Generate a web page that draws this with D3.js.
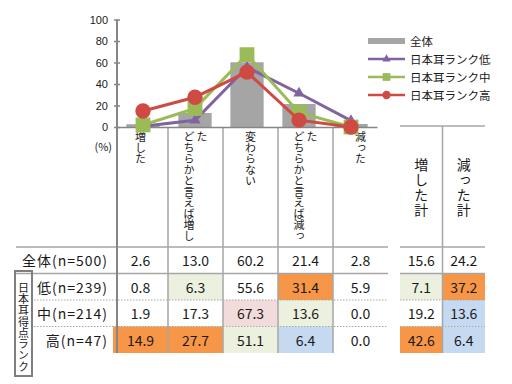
<!DOCTYPE html>
<html>
<head>
<meta charset="utf-8">
<script src="https://cdn.jsdelivr.net/npm/d3@7"></script>
<style>
body{margin:0;background:#fff;}
svg{font-family:"Noto Sans CJK JP","Noto Sans",sans-serif;}
.vtext{writing-mode:vertical-rl;}
</style>
</head>
<body>
<div id="chart"></div>
<script>
'use strict';

var categories = ['増した', 'どちらかと言えば増した', '変わらない', 'どちらかと言えば減った', '減った'];
var totalCats = ['増した計', '減った計'];
var seriesNames = ['全体', '日本耳ランク低', '日本耳ランク中', '日本耳ランク高'];
var rowLabels = ['全体(n=500)', '低(n=239)', '中(n=214)', '高(n=47)'];
var rankLabel = '日本耳得点ランク';
var yTicks = [0, 20, 40, 60, 80, 100];

var allValues  = [2.6, 13.0, 60.2, 21.4, 2.8];
var lowValues  = [0.8, 6.3, 55.6, 31.4, 5.9];
var midValues  = [1.9, 17.3, 67.3, 13.6, 0.0];
var highValues = [14.9, 27.7, 51.1, 6.4, 0.0];

var allTotals  = [15.6, 24.2];
var lowTotals  = [7.1, 37.2];
var midTotals  = [19.2, 13.6];
var highTotals = [42.6, 6.4];

// difference vs 全体: 2 much higher, 1 higher, -1 lower, -2 much lower
var allSig  = [0, 0, 0, 0, 0, 0, 0];
var lowSig  = [0, -1, 0, 2, 0, -1, 2];
var midSig  = [0, 0, 1, -1, 0, 0, -2];
var highSig = [2, 2, -1, -2, 0, 2, -2];

var sigColor = {'2': '#f79646', '1': '#f2dcdb', '0': 'none', '-1': '#ebf1de', '-2': '#c5d9f1'};
var gridColor = '#a6a6a6';
var axisColor = '#868686';

var width = 512, height = 384;

var svg = d3.select('#chart').append('svg')
	.attr('width', width)
	.attr('height', height);

// scales
var x = d3.scaleBand().domain(categories).range([117, 377]).paddingInner(0.36).paddingOuter(0.18);
var y = d3.scaleLinear().domain([0, 100]).range([127, 19.5]);
var tx = d3.scaleBand().domain(categories).range([113, 388]);
var tx2 = d3.scaleBand().domain(totalCats).range([400, 485]);
var ty = d3.scaleBand().domain(rowLabels).range([247, 353]);

var rows = [
	{label: rowLabels[0], values: allValues.concat(allTotals), sig: allSig},
	{label: rowLabels[1], values: lowValues.concat(lowTotals), sig: lowSig},
	{label: rowLabels[2], values: midValues.concat(midTotals), sig: midSig},
	{label: rowLabels[3], values: highValues.concat(highTotals), sig: highSig}
];

function colX(i){ return i < 5 ? tx(categories[i]) : tx2(totalCats[i - 5]); }
function colW(i){ return i < 5 ? tx.bandwidth() : tx2.bandwidth(); }

// table cells
var table = svg.append('g').attr('class', 'table');

rows.forEach(function(r){
	var cells = table.selectAll(null).data(r.values).enter();
	cells.append('rect')
		.attr('x', function(d, i){ return colX(i); })
		.attr('y', ty(r.label))
		.attr('width', function(d, i){ return colW(i); })
		.attr('height', ty.bandwidth())
		.attr('fill', function(d, i){ return sigColor[r.sig[i]]; });
	cells.append('text')
		.attr('x', function(d, i){ return colX(i) + colW(i) / 2; })
		.attr('y', ty(r.label) + ty.bandwidth() / 2)
		.attr('text-anchor', 'middle')
		.attr('dominant-baseline', 'central')
		.attr('font-size', 14)
		.attr('fill', '#1a1a1a')
		.text(function(d){ return d.toFixed(1); });
	table.append('text')
		.attr('x', 108)
		.attr('y', ty(r.label) + ty.bandwidth() / 2)
		.attr('text-anchor', 'end')
		.attr('dominant-baseline', 'central')
		.attr('font-size', 14)
		.attr('letter-spacing', 1)
		.attr('fill', '#1a1a1a')
		.text(r.label);
});

// grid lines
var grid = svg.append('g').attr('stroke', gridColor).attr('stroke-width', 1.5);

grid.selectAll('line.v').data(categories.slice(1)).enter().append('line')
	.attr('x1', function(d){ return tx(d); }).attr('x2', function(d){ return tx(d); })
	.attr('y1', y(0)).attr('y2', 353);

grid.append('line')
	.attr('x1', tx2(totalCats[1])).attr('x2', tx2(totalCats[1]))
	.attr('y1', 126).attr('y2', 353);

grid.append('line').attr('x1', tx2.range()[0]).attr('x2', tx2.range()[1]).attr('y1', 126).attr('y2', 126);

[[16, 388], [tx2.range()[0], tx2.range()[1]]].forEach(function(span){
	grid.append('line').attr('x1', span[0]).attr('x2', span[1]).attr('y1', ty(rowLabels[0])).attr('y2', ty(rowLabels[0]));
	grid.append('line').attr('x1', span[0]).attr('x2', span[1]).attr('y1', ty(rowLabels[1])).attr('y2', ty(rowLabels[1]));
	[2, 3].forEach(function(k){
		grid.append('line')
			.attr('x1', span[0] === 16 ? 34 : span[0]).attr('x2', span[1])
			.attr('y1', ty(rowLabels[k])).attr('y2', ty(rowLabels[k]))
			.attr('stroke-width', 1)
			.attr('stroke-dasharray', '1.5,1.5');
	});
});

// vertical labels, wrapped into columns that run left to right
function vLabel(g, label, cx, top, size, spacing, perCol){
	var chunks = [];
	for(var i = 0; i < label.length; i += perCol){ chunks.push(label.slice(i, i + perCol)); }
	chunks.forEach(function(c, k){
		g.append('text')
			.attr('class', 'vtext')
			.attr('x', cx + (k - (chunks.length - 1) / 2) * (size + 2))
			.attr('y', top)
			.attr('font-size', size)
			.attr('letter-spacing', spacing)
			.attr('fill', '#1a1a1a')
			.text(c);
	});
}

var header = svg.append('g');
categories.forEach(function(c){
	vLabel(header, c, tx(c) + tx.bandwidth() / 2, 131, 11, 0, 10);
});
totalCats.forEach(function(c){
	vLabel(header, c, tx2(c) + tx2.bandwidth() / 2, 158, 14, 1, 10);
});

// rank box
svg.append('rect')
	.attr('x', 15).attr('y', 271)
	.attr('width', 17).attr('height', 105)
	.attr('fill', 'none').attr('stroke', '#7f7f7f').attr('stroke-width', 2);
vLabel(svg.append('g'), rankLabel, 23.5, 282, 11, 0.3, 10);

// chart: bars
svg.append('g').selectAll('rect').data(allValues).enter().append('rect')
	.attr('x', function(d, i){ return x(categories[i]); })
	.attr('y', function(d){ return y(d); })
	.attr('width', x.bandwidth())
	.attr('height', function(d){ return y(0) - y(d); })
	.attr('fill', '#a5a5a5');

// axes
var yAxis = d3.axisLeft(y).tickValues(yTicks).tickSize(3).tickPadding(6);
var gy = svg.append('g').attr('transform', 'translate(117,0)').call(yAxis);
gy.select('.domain').remove();
gy.selectAll('.tick line').attr('x1', 3).attr('stroke', axisColor).attr('stroke-width', 1.5);
gy.selectAll('.tick text').attr('font-family', 'Liberation Sans, Arial, sans-serif').attr('font-size', 11).attr('fill', '#1a1a1a');

svg.append('line')
	.attr('x1', 117).attr('x2', 117).attr('y1', y(100)).attr('y2', 353)
	.attr('stroke', axisColor).attr('stroke-width', 2);

var xAxis = d3.axisBottom(x).tickSize(0).tickFormat('');
var gx = svg.append('g').attr('transform', 'translate(0,' + y(0) + ')').call(xAxis);
gx.select('.domain').attr('stroke', axisColor).attr('stroke-width', 1.5);

svg.append('text')
	.attr('x', 112).attr('y', 146)
	.attr('text-anchor', 'end').attr('dominant-baseline', 'central')
	.attr('font-size', 11).attr('fill', '#1a1a1a')
	.text('(%)');

// chart: lines
var lineSeries = [
	{name: seriesNames[1], values: lowValues, color: '#8064a2', symbol: d3.symbolTriangle, size: 55, lsize: 30},
	{name: seriesNames[2], values: midValues, color: '#9bbb59', symbol: d3.symbolSquare, size: 220, lsize: 60},
	{name: seriesNames[3], values: highValues, color: '#cf4a42', symbol: d3.symbolCircle, size: 185, lsize: 55}
];

var line = d3.line()
	.x(function(d, i){ return x(categories[i]) + x.bandwidth() / 2; })
	.y(function(d){ return y(d); });

lineSeries.forEach(function(s){
	var g = svg.append('g');
	g.append('path')
		.attr('d', line(s.values))
		.attr('fill', 'none')
		.attr('stroke', s.color)
		.attr('stroke-width', 3);
	g.selectAll('path.m').data(s.values).enter().append('path')
		.attr('class', 'm')
		.attr('transform', function(d, i){ return 'translate(' + (x(categories[i]) + x.bandwidth() / 2) + ',' + y(d) + ')'; })
		.attr('d', d3.symbol().type(s.symbol).size(s.size))
		.attr('fill', s.color);
});

// legend
var legend = svg.append('g').attr('transform', 'translate(368,41)');
var legendItems = legend.selectAll('g').data(seriesNames).enter().append('g')
	.attr('transform', function(d, i){ return 'translate(0,' + (i * 18) + ')'; });

legendItems.each(function(d, i){
	var g = d3.select(this);
	if(i === 0){
		g.append('rect').attr('x', 0).attr('y', -3).attr('width', 37).attr('height', 6).attr('fill', '#a5a5a5');
	}else{
		var s = lineSeries[i - 1];
		g.append('line').attr('x1', 0).attr('x2', 37).attr('stroke', s.color).attr('stroke-width', 2.5);
		g.append('path').attr('transform', 'translate(18.5,0)')
			.attr('d', d3.symbol().type(s.symbol).size(s.lsize)).attr('fill', s.color);
	}
	g.append('text')
		.attr('x', 42)
		.attr('dominant-baseline', 'central')
		.attr('font-size', 11.5)
		.attr('fill', '#1a1a1a')
		.text(d);
});
</script>
</body>
</html>
